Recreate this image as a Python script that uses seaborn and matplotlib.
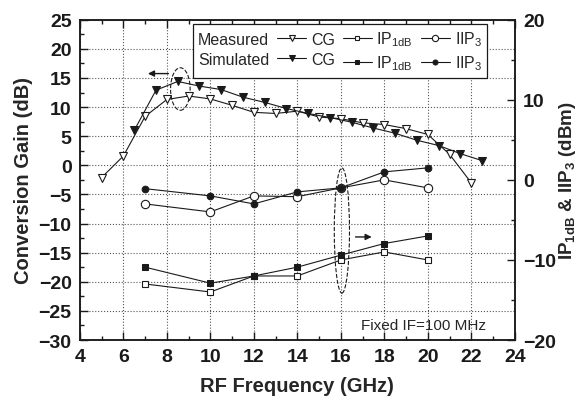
import numpy as np
import pandas as pd
import matplotlib
matplotlib.use('Agg')
import matplotlib.pyplot as plt
from matplotlib.patches import Ellipse
from matplotlib.ticker import MultipleLocator
import seaborn as sns

sns.set_theme(style='ticks')
plt.rcParams['font.family'] = ['Liberation Sans', 'DejaVu Sans']
plt.rcParams['mathtext.fontset'] = 'custom'
plt.rcParams['mathtext.rm'] = 'Liberation Sans'
plt.rcParams['mathtext.bf'] = 'Liberation Sans:bold'

# Conversion gain (left axis, dB)
meas_cg_freq = [5, 6, 7, 8, 9, 10, 11, 12, 13, 14, 15, 16, 17, 18, 19, 20, 21, 22]
meas_cg = [-2.1, 1.6, 8.4, 11.3, 11.9, 11.4, 10.3, 9.1, 8.9, 9.3, 8.3, 8.0, 7.3, 7.0, 6.3, 5.3, 1.9, -3.0]
sim_cg_freq = [6.5, 7.5, 8.5, 9.5, 10.5, 11.5, 12.5, 13.5, 14.5, 15.5, 16.5, 17.5, 18.5, 19.5, 20.5, 21.5, 22.5]
sim_cg = [6.0, 12.9, 14.4, 13.6, 13.0, 11.7, 10.8, 9.75, 8.9, 8.2, 7.4, 6.4, 5.5, 4.3, 3.4, 2.0, 0.8]

# Linearity (right axis, dBm)
ip_freq = [7, 10, 12, 14, 16, 18, 20]
meas_iip3 = [-3.0, -4.0, -2.0, -2.1, -1.0, 0.0, -1.0]
sim_iip3 = [-1.1, -2.0, -3.0, -1.5, -1.0, 1.0, 1.5]
meas_ip1db = [-13.0, -14.0, -12.0, -12.0, -10.0, -9.0, -10.0]
sim_ip1db = [-10.9, -12.9, -12.0, -10.9, -9.4, -7.95, -7.0]

cg_meas_df = pd.DataFrame({'f': meas_cg_freq, 'v': meas_cg})
cg_sim_df = pd.DataFrame({'f': sim_cg_freq, 'v': sim_cg})
ip_df = pd.DataFrame({'f': ip_freq, 'meas_iip3': meas_iip3, 'sim_iip3': sim_iip3,
                      'meas_ip1db': meas_ip1db, 'sim_ip1db': sim_ip1db})

fig, ax = plt.subplots(figsize=(5.79, 4.06), dpi=100)
fig.subplots_adjust(left=0.138, right=0.889, bottom=0.160, top=0.949)
ax2 = ax.twinx()

lw = 0.8
sns.lineplot(data=cg_meas_df, x='f', y='v', ax=ax, color='k', lw=lw, marker='v',
             markersize=6, markerfacecolor='white', markeredgecolor='k', markeredgewidth=0.8)
h_mcg = ax.lines[-1]
sns.lineplot(data=cg_sim_df, x='f', y='v', ax=ax, color='k', lw=lw, marker='v',
             markersize=6, markerfacecolor='k', markeredgecolor='k')
h_scg = ax.lines[-1]

sns.lineplot(data=ip_df, x='f', y='meas_ip1db', ax=ax2, color='k', lw=lw, marker='s',
             markersize=4.2, markerfacecolor='white', markeredgecolor='k', markeredgewidth=0.8)
h_mip = ax2.lines[-1]
sns.lineplot(data=ip_df, x='f', y='sim_ip1db', ax=ax2, color='k', lw=lw, marker='s',
             markersize=4.2, markerfacecolor='k', markeredgecolor='k')
h_sip = ax2.lines[-1]
sns.lineplot(data=ip_df, x='f', y='meas_iip3', ax=ax2, color='k', lw=lw, marker='o',
             markersize=6, markerfacecolor='white', markeredgecolor='k', markeredgewidth=0.8)
h_miip = ax2.lines[-1]
sns.lineplot(data=ip_df, x='f', y='sim_iip3', ax=ax2, color='k', lw=lw, marker='o',
             markersize=4.8, markerfacecolor='k', markeredgecolor='k')
h_siip = ax2.lines[-1]

# axes, ticks, grid
ax.set_xlim(4, 24)
ax.set_ylim(-30, 25)
ax2.set_ylim(-20, 20)
ax.xaxis.set_major_locator(MultipleLocator(2))
ax.xaxis.set_minor_locator(MultipleLocator(1))
ax.yaxis.set_major_locator(MultipleLocator(5))
ax.yaxis.set_minor_locator(MultipleLocator(2.5))
ax2.yaxis.set_major_locator(MultipleLocator(10))
ax2.yaxis.set_minor_locator(MultipleLocator(5))

ax.tick_params(which='both', direction='in', top=True, right=False, width=1, colors='k')
ax.tick_params(which='major', length=6, labelsize=14, pad=6)
ax.tick_params(which='minor', length=3)
ax2.tick_params(which='both', direction='in', width=1, colors='k')
ax2.tick_params(which='major', length=6, labelsize=14, pad=6)
ax2.tick_params(which='minor', length=3)
for lab in ax.get_xticklabels() + ax.get_yticklabels() + ax2.get_yticklabels():
    lab.set_fontweight('bold')

ax.grid(True, which='major', linestyle=':', color='#555555', lw=0.8)
ax2.grid(False)
for a in (ax, ax2):
    for sp in a.spines.values():
        sp.set_visible(True)
        sp.set_color('k')
        sp.set_linewidth(1.1)

ax.set_xlabel('RF Frequency (GHz)', fontsize=14.5, fontweight='bold', labelpad=8)
ax.set_ylabel('Conversion Gain (dB)', fontsize=14.5, fontweight='bold', labelpad=4)
ax2.set_ylabel(r'IP$_{\mathbf{1dB}}$ & IIP$_{\mathbf{3}}$ (dBm)', fontsize=13.5,
               fontweight='bold', rotation=90, labelpad=1)

# annotations
ax.add_patch(Ellipse((8.62, 13.1), 0.9, 7.3, fill=False, ls='--', lw=0.8, ec='k'))
ax.add_patch(Ellipse((16.05, -11.2), 0.7, 21.5, fill=False, ls='--', lw=0.8, ec='k'))
ax.annotate('', xy=(7.0, 15.75), xytext=(8.2, 15.75),
            arrowprops=dict(arrowstyle='-|>', color='k', lw=1, mutation_scale=9))
ax.annotate('', xy=(17.55, -12.3), xytext=(16.55, -12.3),
            arrowprops=dict(arrowstyle='-|>', color='k', lw=1, mutation_scale=9))
ax.text(16.95, -27.4, 'Fixed IF=100 MHz', fontsize=11, va='center', ha='left')

# legend: row names first, then the three quantities
blank = plt.Line2D([], [], color='none')
handles = [blank, blank, h_mcg, h_scg, h_mip, h_sip, h_miip, h_siip]
labels = ['Measured', 'Simulated', 'CG', 'CG',
          r'IP$_{\mathrm{1dB}}$', r'IP$_{\mathrm{1dB}}$',
          r'IIP$_{\mathrm{3}}$', r'IIP$_{\mathrm{3}}$']
leg = ax2.legend(handles, labels, ncol=4, loc='upper right', bbox_to_anchor=(0.937, 0.986),
                 fontsize=11.5, handlelength=1.8, handletextpad=0.3, columnspacing=0.5,
                 labelspacing=0.3, borderpad=0.35, borderaxespad=0, fancybox=False,
                 framealpha=1, edgecolor='k', markerscale=0.75)
leg.get_frame().set_linewidth(0.9)
first_col = leg._legend_handle_box.get_children()[0]
for item in first_col.get_children():
    item.get_children()[0].width = 0
    item.sep = 0

fig.savefig('out.png', dpi=100)
